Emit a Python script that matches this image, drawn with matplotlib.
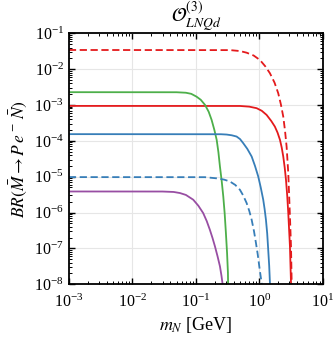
import matplotlib
matplotlib.use("Agg")
import matplotlib.pyplot as plt
from matplotlib.ticker import LogLocator, NullFormatter

# values (m_N in GeV, branching ratio)
red_dash_x = [1e-3, 0.35, 0.5, 0.635, 0.82, 1.03, 1.25, 1.48, 1.75, 2.00, 2.20, 2.40, 2.56,
              2.71, 2.88, 3.06, 3.18, 3.26, 3.28]
red_dash_y = [3.43e-2, 3.4e-2, 3.2e-2, 2.88e-2, 2.4e-2, 1.80e-2, 1.2e-2, 7.69e-3, 4.2e-3,
              2.13e-3, 1.05e-3, 4.75e-4, 1.9e-4, 6.93e-5, 1.26e-5, 7.8e-7, 1.14e-7, 1.09e-8, 1e-9]

red_x = [1e-3, 0.5, 0.7, 0.914, 1.1, 1.31, 1.55, 1.77, 1.95, 2.13, 2.27, 2.40, 2.53, 2.65,
         2.77, 2.88, 3.06, 3.18, 3.2]
red_y = [9.44e-4, 9.4e-4, 9.0e-4, 8.15e-4, 6.9e-4, 5.30e-4, 3.6e-4, 2.50e-4, 1.7e-4, 1.07e-4,
         6.5e-5, 3.66e-5, 1.8e-5, 8.2e-6, 3.0e-6, 9.7e-7, 1.14e-7, 1.09e-8, 1e-9]

green_x = [1e-3, 0.05, 0.07, 0.085, 0.103, 0.12, 0.140, 0.16, 0.178, 0.197, 0.214, 0.228,
           0.241, 0.257, 0.272, 0.286, 0.299, 0.312, 0.322, 0.330]
green_y = [2.28e-3, 2.27e-3, 2.2e-3, 2.05e-3, 1.71e-3, 1.4e-3, 1.01e-3, 6.5e-4, 3.85e-4,
           2.0e-4, 1.07e-4, 4.8e-5, 1.92e-5, 7.5e-6, 2.81e-6, 9.5e-7, 2.74e-7, 7.5e-8, 2.1e-8, 1e-9]

blue_x = [1e-3, 0.25, 0.307, 0.37, 0.441, 0.5, 0.561, 0.65, 0.762, 0.86, 0.968, 1.06, 1.16,
          1.22, 1.28, 1.34, 1.39, 1.44, 1.48, 1.51]
blue_y = [1.54e-4, 1.53e-4, 1.50e-4, 1.43e-4, 1.32e-4, 1.12e-4, 8.63e-5, 6.0e-5, 3.66e-5,
          2.0e-5, 1.01e-5, 5.0e-6, 2.28e-6, 1.25e-6, 6.3e-7, 2.6e-7, 9.2e-8, 3.3e-8, 1.09e-8, 1e-9]

blue_dash_x = [1e-3, 0.14, 0.214, 0.28, 0.346, 0.42, 0.498, 0.56, 0.635, 0.70, 0.762, 0.83,
               0.891, 0.95, 1.005, 1.05, 1.094, 1.11]
blue_dash_y = [9.75e-6, 9.7e-6, 9.0e-6, 8.3e-6, 7.35e-6, 5.9e-6, 4.31e-6, 3.0e-6, 1.84e-6,
               1.1e-6, 6.3e-7, 3.0e-7, 1.41e-7, 6.8e-8, 3.16e-8, 1.8e-8, 1.09e-8, 1e-9]

purple_x = [1e-3, 0.03, 0.045, 0.0564, 0.07, 0.0914, 0.11, 0.131, 0.149, 0.167, 0.184, 0.201,
            0.221, 0.241, 0.255, 0.266, 0.279]
purple_y = [3.87e-6, 3.86e-6, 3.75e-6, 3.5e-6, 3.1e-6, 2.28e-6, 1.55e-6, 9.7e-7, 5.8e-7,
            3.32e-7, 1.95e-7, 1.14e-7, 6.0e-8, 3.16e-8, 1.7e-8, 9.8e-9, 1e-9]

RED = "#e41a1c"
GREEN = "#4daf4a"
BLUE = "#377eb8"
PURPLE = "#984ea3"

plt.rcParams["font.family"] = ["Liberation Serif", "DejaVu Serif"]
plt.rcParams["mathtext.fontset"] = "stix"

fig = plt.figure(figsize=(3.36, 3.40), dpi=100)
ax = fig.add_axes([0.205, 0.164, 0.755, 0.738])

lw = 1.3
ax.plot(red_dash_x, red_dash_y, color=RED, lw=lw, ls=(0, (4, 2)))
ax.plot(red_x, red_y, color=RED, lw=lw)
ax.plot(green_x, green_y, color=GREEN, lw=lw)
ax.plot(blue_x, blue_y, color=BLUE, lw=lw)
ax.plot(blue_dash_x, blue_dash_y, color=BLUE, lw=lw, ls=(0, (4, 2)))
ax.plot(purple_x, purple_y, color=PURPLE, lw=lw)

ax.set_xscale("log")
ax.set_yscale("log")
ax.set_xlim(1e-3, 10)
ax.set_ylim(1e-8, 1e-1)
ax.xaxis.set_major_locator(LogLocator(base=10, numticks=10))
ax.yaxis.set_major_locator(LogLocator(base=10, numticks=10))
ax.xaxis.set_minor_locator(LogLocator(base=10, subs=range(2, 10), numticks=20))
ax.yaxis.set_minor_locator(LogLocator(base=10, subs=range(2, 10), numticks=20))
ax.xaxis.set_minor_formatter(NullFormatter())
ax.yaxis.set_minor_formatter(NullFormatter())

ax.grid(True, which="major", color="#e6e6e6", lw=0.8)
ax.set_axisbelow(True)
ax.tick_params(which="both", direction="in", top=True, right=True, labelsize=11.5)
ax.tick_params(which="major", length=4, width=1)
ax.tick_params(which="minor", length=2, width=0.7)
ax.tick_params(axis="x", which="major", pad=7)
for s in ax.spines.values():
    s.set_linewidth(1.3)

ax.set_title(r"$\mathcal{O}^{(3)}_{LNQd}$", fontsize=14, pad=3)
ax.set_xlabel(r"$m_N$ [GeV]", fontsize=13, labelpad=3)
ax.set_ylabel(r"$BR(\bar{M}\to P\,e^-\,\bar{N})$", fontsize=12.5)

fig.savefig("out.png", dpi=100)
